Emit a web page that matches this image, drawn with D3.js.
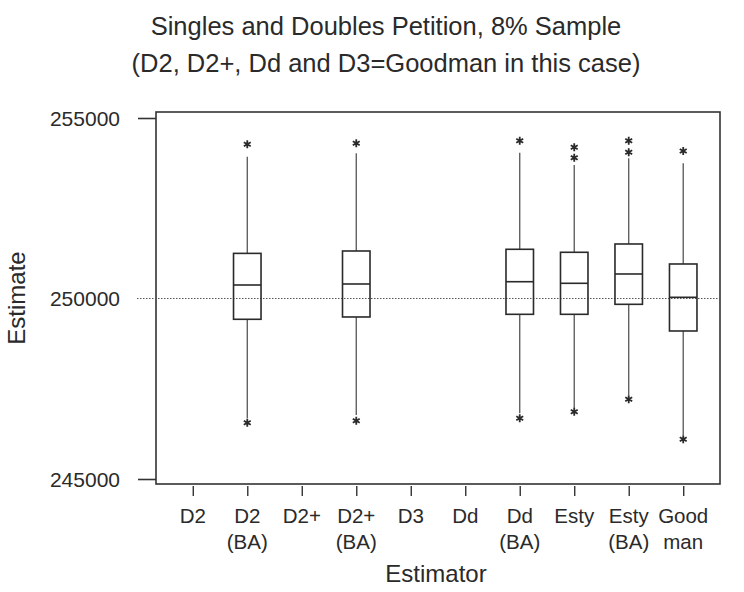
<!DOCTYPE html>
<html>
<head>
<meta charset="utf-8">
<script src="https://cdn.jsdelivr.net/npm/d3@7"></script>
<style>
  html, body { margin: 0; padding: 0; background: #fff; }
  svg { display: block; }
  text { font-family: "Liberation Sans", Arial, sans-serif; fill: #2a2a2a; }
</style>
</head>
<body>
<svg id="chart" width="744" height="592"></svg>
<script>
// ---- data ----
const categories = ["D2", "D2 (BA)", "D2+", "D2+ (BA)", "D3", "Dd", "Dd (BA)", "Esty", "Esty (BA)", "Goodman"];
const tickLabelLines = [["D2"], ["D2", "(BA)"], ["D2+"], ["D2+", "(BA)"], ["D3"], ["Dd"], ["Dd", "(BA)"], ["Esty"], ["Esty", "(BA)"], ["Good", "man"]];
const boxCategories = ["D2 (BA)", "D2+ (BA)", "Dd (BA)", "Esty", "Esty (BA)", "Goodman"];
const q1Values      = [249424, 249488, 249562, 249562, 249839, 249100];
const medianValues  = [250374, 250402, 250465, 250421, 250679, 250033];
const q3Values      = [251250, 251316, 251363, 251280, 251510, 250956];
const whiskerLow    = [246681, 246773, 246820, 246958, 247327, 246219];
const whiskerHigh   = [253928, 254022, 254039, 253698, 253884, 253745];
const outlierValues = [[254271, 246560], [254299, 246615], [254371, 246681], [254188, 253900, 246864], [254371, 254050, 247208], [254086, 246100]];
const yTickValues = [245000, 250000, 255000];
const referenceValue = 250000;
const titleLines = ["Singles and Doubles Petition, 8% Sample", "(D2, D2+, Dd and D3=Goodman in this case)"];
const xAxisTitle = "Estimator";
const yAxisTitle = "Estimate";

// ---- layout ----
const frame = { left: 156, right: 720, top: 112, bottom: 484 };
const svg = d3.select("#chart");

const x = d3.scalePoint().domain(categories).range([frame.left, frame.right]).padding(0.675);
const y = d3.scaleLinear().domain([245000, 255000]).range([479, 118]);
const boxW = 27.5;

// title
const title = svg.append("text").attr("text-anchor", "middle").style("font-size", "25.5px");
titleLines.forEach((t, i) => {
  title.append("tspan").attr("x", 386).attr("y", 35 + i * 37).text(t);
});

// frame
svg.append("rect")
  .attr("x", frame.left).attr("y", frame.top)
  .attr("width", frame.right - frame.left).attr("height", frame.bottom - frame.top)
  .attr("fill", "none").attr("stroke", "#333").attr("stroke-width", 1.6);

// y axis ticks + labels
const yAxis = d3.axisLeft(y).tickValues(yTickValues).tickSize(18).tickFormat(d3.format("d"));
const yg = svg.append("g").attr("transform", `translate(${frame.left},0)`).call(yAxis);
yg.select(".domain").remove();
yg.selectAll(".tick line").attr("stroke", "#333").attr("stroke-width", 1.6)
  .filter(d => d === referenceValue).attr("stroke", "none");
yg.selectAll(".tick text").attr("x", -36).attr("dy", "0.35em")
  .style("font-size", "21px").style("font-family", "'Liberation Sans', Arial, sans-serif").attr("fill", "#2a2a2a");

// reference line
svg.append("line")
  .attr("x1", 137).attr("x2", frame.right)
  .attr("y1", y(referenceValue)).attr("y2", y(referenceValue))
  .attr("stroke", "#555").attr("stroke-width", 1.2).attr("stroke-dasharray", "1.5,1.5");

// x axis ticks + labels
const xAxis = d3.axisBottom(x).tickSize(10).tickFormat("");
const xg = svg.append("g").attr("transform", `translate(0,${frame.bottom + 2})`).call(xAxis);
xg.select(".domain").remove();
xg.selectAll(".tick line").attr("stroke", "#333").attr("stroke-width", 1.4);
categories.forEach((c, i) => {
  const t = svg.append("text").attr("text-anchor", "middle").style("font-size", "20.5px");
  tickLabelLines[i].forEach((line, j) => {
    t.append("tspan").attr("x", x(c)).attr("y", 523 + j * 25.5).text(line);
  });
});

// axis titles
svg.append("text").attr("text-anchor", "middle").attr("x", 436).attr("y", 582)
  .style("font-size", "24px").text(xAxisTitle);
svg.append("text").attr("text-anchor", "middle")
  .attr("transform", `translate(25,${(frame.top + frame.bottom) / 2}) rotate(-90)`)
  .style("font-size", "24px").text(yAxisTitle);

// asterisk symbol
const asterisk = {
  draw(ctx, size) {
    const r = Math.sqrt(size) / 2;
    for (let k = 0; k < 3; k++) {
      const a = Math.PI / 2 + k * Math.PI / 3;
      ctx.moveTo(-r * Math.cos(a), -r * Math.sin(a));
      ctx.lineTo(r * Math.cos(a), r * Math.sin(a));
    }
  }
};

// boxes
const g = svg.append("g");
boxCategories.forEach((c, i) => {
  const cx = x(c);
  // whiskers
  g.append("line").attr("x1", cx).attr("x2", cx).attr("y1", y(q3Values[i])).attr("y2", y(whiskerHigh[i]))
    .attr("stroke", "#555").attr("stroke-width", 1.3);
  g.append("line").attr("x1", cx).attr("x2", cx).attr("y1", y(q1Values[i])).attr("y2", y(whiskerLow[i]))
    .attr("stroke", "#555").attr("stroke-width", 1.3);
  // box
  g.append("rect").attr("x", cx - boxW / 2).attr("y", y(q3Values[i]))
    .attr("width", boxW).attr("height", y(q1Values[i]) - y(q3Values[i]))
    .attr("fill", "none").attr("stroke", "#2a2a2a").attr("stroke-width", 1.6);
  g.append("line").attr("x1", cx - boxW / 2).attr("x2", cx + boxW / 2)
    .attr("y1", y(medianValues[i])).attr("y2", y(medianValues[i]))
    .attr("stroke", "#2a2a2a").attr("stroke-width", 1.6);
  // outliers
  outlierValues[i].forEach(v => {
    g.append("path").attr("d", d3.symbol().type(asterisk).size(64)())
      .attr("transform", `translate(${cx},${y(v)})`)
      .attr("stroke", "#2a2a2a").attr("stroke-width", 1.8).attr("fill", "none");
  });
});
</script>
</body>
</html>
